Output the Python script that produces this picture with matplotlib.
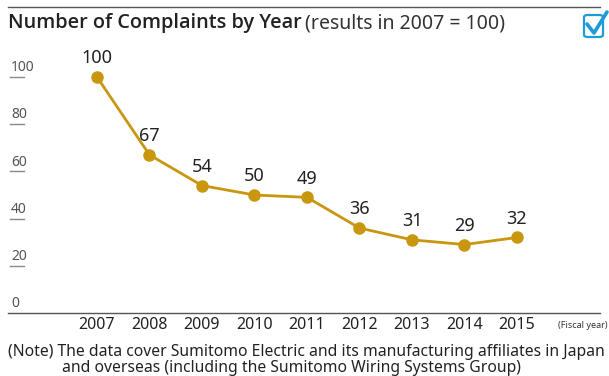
import matplotlib.pyplot as plt
from matplotlib.patches import FancyBboxPatch
from matplotlib.lines import Line2D

plt.rcParams['font.family'] = ['Noto Sans', 'DejaVu Sans']

years = [2007, 2008, 2009, 2010, 2011, 2012, 2013, 2014, 2015]
complaints = [100, 67, 54, 50, 49, 36, 31, 29, 32]
yticks = [0, 20, 40, 60, 80, 100]

gold = '#C8960F'
W, H = 609, 376

fig = plt.figure(figsize=(W / 100, H / 100), dpi=100)

# axes: x from px 8 to 600, y from px 313 (value 0) up to px 50
ax = fig.add_axes([8 / W, (H - 313) / H, 592 / W, 263 / H])
px_per_year = 52.5
ax.set_xlim(2007 - 89 / px_per_year, 2015 + 83 / px_per_year)
px_per_unit = 2.36
ax.set_ylim(0, 263 / px_per_unit)
ax.axis('off')

ax.plot(years, complaints, color=gold, lw=2, marker='o', ms=8, zorder=3)
for x, y in zip(years, complaints):
    ax.annotate(str(y), (x, y), xytext=(0, 7), textcoords='offset points',
                ha='center', va='bottom', fontsize=13, color='#222222')

# baseline
ax.plot([0, 1], [0, 0], transform=ax.get_yaxis_transform(), color='#555555', lw=1, clip_on=False)

# y ticks: short line with label sitting on it
trans = ax.get_yaxis_transform()
for t in yticks:
    if t > 0:
        ax.plot([2 / 592, 16 / 592], [t, t], transform=trans, color='#888888', lw=1)
    ax.text(3 / 592, t + 0.8, str(t), transform=trans, ha='left', va='bottom',
            fontsize=10, color='#555555')

# x labels
xtrans = ax.get_xaxis_transform()
for x in years:
    ax.text(x, -12 / 263, str(x), transform=xtrans, ha='center', va='center',
            fontsize=11.5, color='#222222')
fig.text(607 / W, 1 - 325 / H, '(Fiscal year)', ha='right', va='center',
         fontsize=6.5, color='#333333')

# header
fig.add_artist(Line2D([8 / W, 600 / W], [1 - 7 / H, 1 - 7 / H], color='#555555', lw=1))
fig.text(8 / W, 1 - 23 / H, 'Number of Complaints by Year', ha='left', va='center',
         fontsize=14.3, fontweight='semibold', family=['Open Sans', 'DejaVu Sans'],
         color='#222222')
fig.text(305 / W, 1 - 23 / H, '(results in 2007 = 100)', ha='left', va='center',
         fontsize=14, fontweight='light', color='#333333')

# checkbox icon
box = FancyBboxPatch((584 / W, 1 - 37 / H), 19 / W, 22 / H,
                     boxstyle='round,pad=0,rounding_size=0.006',
                     transform=fig.transFigure, fill=False, ec='#1E9BD7', lw=1.6)
fig.add_artist(box)
fig.add_artist(Line2D([587 / W, 594 / W, 607 / W], [1 - 24 / H, 1 - 33 / H, 1 - 12 / H],
                      color='#1E9BD7', lw=2.6, solid_capstyle='round'))

# note
fig.text(8 / W, 1 - 352 / H, '(Note) The data cover Sumitomo Electric and its manufacturing affiliates in Japan',
         ha='left', va='center', fontsize=11.3, color='#222222')
fig.text(62 / W, 1 - 368 / H, 'and overseas (including the Sumitomo Wiring Systems Group)',
         ha='left', va='center', fontsize=11.3, color='#222222')

fig.savefig('out.png', dpi=100)
